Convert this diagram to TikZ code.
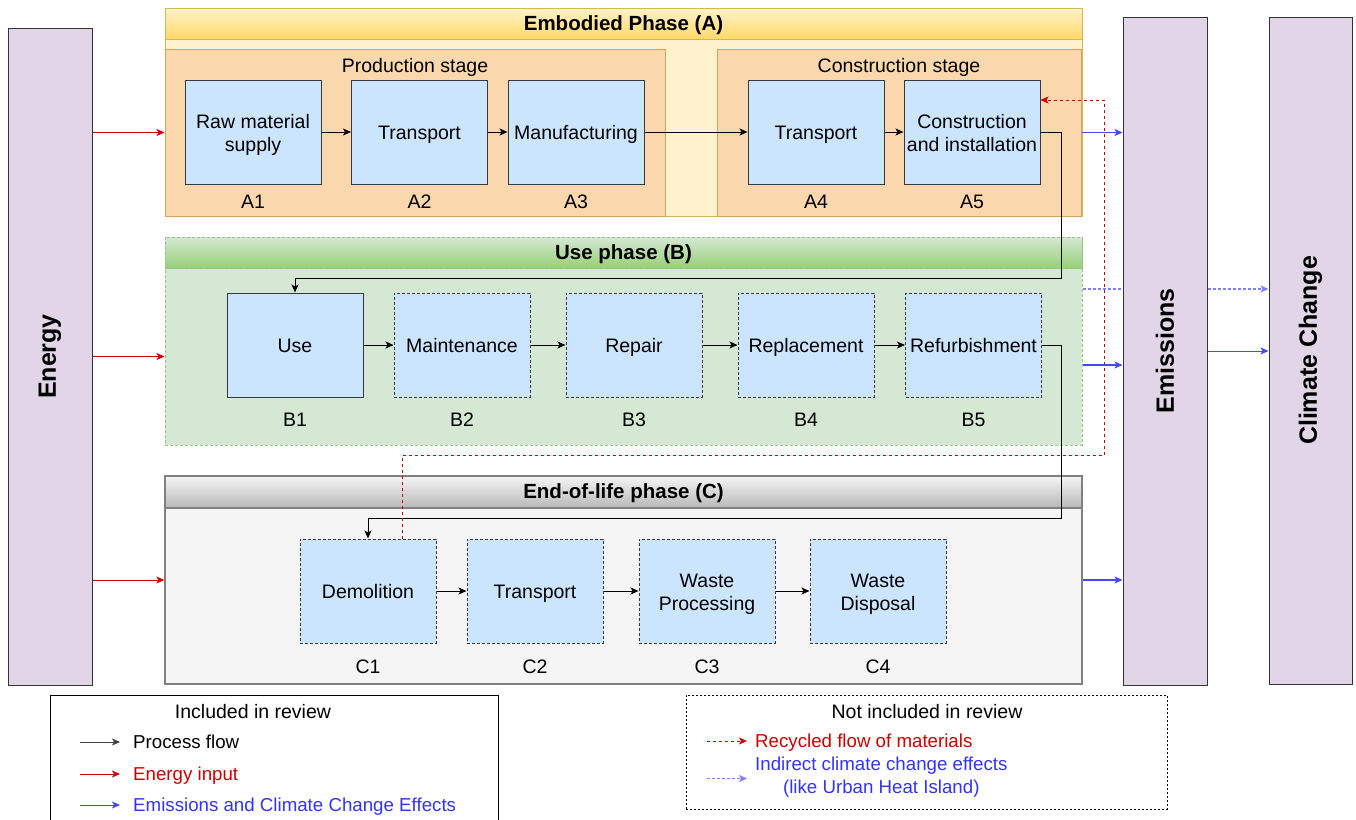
\documentclass[tikz,border=0pt]{standalone}
\usepackage{fontspec}
\setmainfont{Liberation Sans}
\usetikzlibrary{positioning,arrows.meta,shapes}

\definecolor{barfill}{HTML}{E1D5E7}
\definecolor{embhead}{HTML}{FFD966}
\definecolor{embbody}{HTML}{FFF2CC}
\definecolor{embline}{HTML}{D6B656}
\definecolor{stagefill}{HTML}{FAD7AC}
\definecolor{stageline}{HTML}{D6A25A}
\definecolor{usehead}{HTML}{97D077}
\definecolor{usebody}{HTML}{D5E8D4}
\definecolor{useline}{HTML}{97C285}
\definecolor{eolhead}{HTML}{B8B8B8}
\definecolor{eolbody}{HTML}{F5F5F5}
\definecolor{eolline}{HTML}{808080}
\definecolor{boxfill}{HTML}{CCE5FF}
\definecolor{boxline}{HTML}{36393D}
\definecolor{energyred}{HTML}{CC0000}
\definecolor{emisblue}{HTML}{3333FF}
\definecolor{indblue}{HTML}{7F7FFF}

\begin{document}
\begin{tikzpicture}[x=1pt,y=-1pt,font=\fontsize{19.5}{23}\selectfont,
	>={Stealth[length=8pt,width=7pt,inset=2pt]}]
	\useasboundingbox (0,0) rectangle (1356,819);
	\edef\boxw{136pt}
	\edef\boxh{104pt}
	\tikzset{
		txt/.style={text height=13.6pt,text depth=0pt},
		procbox/.style={draw=boxline,fill=boxfill,line width=1pt,minimum width=\boxw,minimum height=\boxh,align=center,inner sep=1pt,text height=16pt,text depth=1pt},
		twoline/.style={text height=39pt},
		optbox/.style={procbox,dash pattern=on 3pt off 2pt},
		steplbl/.style={inner sep=0pt,txt},
		legitem/.style={steplbl,anchor=west,font=\fontsize{18.7}{23}\selectfont},
		bar/.style={draw=black!80,fill=barfill,line width=1pt,minimum width=84pt},
		bartxt/.style={rotate=90,font=\bfseries\fontsize{25}{28}\selectfont},
		phase/.style={line width=1pt,minimum width=917pt,inner sep=0pt},
		phasehead/.style={phase,anchor=north,minimum height=31pt,txt,font=\bfseries\fontsize{20.5}{23}\selectfont},
		stage/.style={draw=stageline,fill=stagefill,line width=1pt,inner sep=0pt},
		flow/.style={->,line width=1pt,black},
		energyflow/.style={->,line width=1pt,energyred},
		emisflow/.style={->,line width=1.5pt,emisblue!90},
		recycled/.style={->,line width=1pt,energyred,dash pattern=on 3pt off 3pt},
		indirect/.style={line width=1.6pt,indblue,dash pattern=on 3pt off 2pt}
	}

	%% Side bars
	\node[bar,minimum height=657pt] (energy) at (50,356.5) {};
	\node[bartxt] (energytxt) at (energy) {Energy};
	\node[bar,minimum height=668pt] (emis) at (1165,351) {};
	\node[bartxt] (emistxt) at (emis) {Emissions};
	\node[bar,minimum width=83pt,minimum height=667pt] (climate) at (1310.5,350.5) {};
	\node[bartxt] (climatetxt) at (climate) {Climate Change};

	%% Embodied phase (A)
	\node[phase,draw=embline,fill=embbody,minimum height=208pt] (phaseA) at (623.5,112) {};
	\node[phasehead,draw=embline,top color=embbody,bottom color=embhead] (headA) at (phaseA.north) {Embodied Phase (A)};
	\node[stage,minimum width=500pt,minimum height=167pt] (prod) at (415,132.5) {};
	\node[stage,minimum width=364pt,minimum height=167pt] (cons) at (899,132.5) {};
	\node[txt] (prodtxt) at (415,66) {Production stage};
	\node[txt] (constxt) at (899,66) {Construction stage};

	\node[procbox,twoline] (a1) at (253,132) {Raw material\\supply};
	\node[procbox] (a2) at (419.5,132) {Transport};
	\node[procbox] (a3) at (576,132) {Manufacturing};
	\node[procbox] (a4) at (816,132) {Transport};
	\node[procbox,twoline] (a5) at (972,132) {Construction\\and installation};
	\foreach \s/\t in {a1/A1,a2/A2,a3/A3,a4/A4,a5/A5}
		\node[steplbl] (\s lbl) at (\s.south |- 0,202) {\t};

	%% Use phase (B)
	\node[phase,draw=useline,fill=usebody,dash pattern=on 3pt off 2pt,minimum height=208pt] (phaseB) at (623.5,341) {};
	\node[phasehead,draw=useline,dash pattern=on 3pt off 2pt,top color=usebody,bottom color=usehead] (headB) at (phaseB.north) {Use phase (B)};

	\node[procbox] (b1) at (295,345) {Use};
	\node[optbox] (b2) at (462,345) {Maintenance};
	\node[optbox] (b3) at (634,345) {Repair};
	\node[optbox] (b4) at (806,345) {Replacement};
	\node[optbox] (b5) at (973.5,345) {Refurbishment};
	\foreach \s/\t in {b1/B1,b2/B2,b3/B3,b4/B4,b5/B5}
		\node[steplbl] (\s lbl) at (\s.south |- 0,420) {\t};

	%% End-of-life phase (C)
	\node[phase,draw=eolline,fill=eolbody,line width=1.3pt,minimum height=208pt] (phaseC) at (623.5,580) {};
	\node[phasehead,draw=eolline,line width=1.3pt,top color=eolbody,bottom color=eolhead,minimum height=32pt] (headC) at (phaseC.north) {End-of-life phase (C)};

	\node[optbox] (c1) at (368,591) {Demolition};
	\node[optbox] (c2) at (535,591) {Transport};
	\node[optbox,twoline] (c3) at (707,591) {Waste\\Processing};
	\node[optbox,twoline] (c4) at (878,591) {Waste\\Disposal};
	\foreach \s/\t in {c1/C1,c2/C2,c3/C3,c4/C4}
		\node[steplbl] (\s lbl) at (\s.south |- 0,667) {\t};

	%% Process flow
	\path[flow]
		(a1) edge (a2)
		(a2) edge (a3)
		(a3) edge (a4)
		(a4) edge (a5)
		(b1) edge (b2)
		(b2) edge (b3)
		(b3) edge (b4)
		(b4) edge (b5)
		(c1) edge (c2)
		(c2) edge (c3)
		(c3) edge (c4);
	\coordinate (turnA) at (1061,278);
	\coordinate (turnB) at (1061,518);
	\draw[flow] (a5.east) -| (turnA) -| (b1.north);
	\draw[flow] (b5.east) -| (turnB) -| (c1.north);

	%% Recycled materials
	\coordinate (recyc) at (1104,455);
	\draw[recycled] ([xshift=34pt]c1.north) |- (recyc) |- ([yshift=32pt]a5.east);

	%% Energy input
	\draw[energyflow] (energy.east |- prod.west) -- (prod.west);
	\draw[energyflow] (energy.east) -- (energy.east -| phaseB.west);
	\draw[energyflow] (energy.east |- phaseC.west) -- (phaseC.west);

	%% Emissions
	\coordinate (bout) at ([yshift=-24pt]phaseB.east);
	\coordinate (bind) at ([yshift=52pt]phaseB.east);
	\draw[emisflow] (cons.east) -- (cons.east -| emis.west);
	\draw[emisflow] (bout) -- (bout -| emis.west);
	\draw[emisflow] (phaseC.east) -- (phaseC.east -| emis.west);
	\draw[emisflow,line width=1pt] (emis.east) -- (emis.east -| climate.west);
	\draw[indirect] (bind) -- (bind -| emis.west);
	\draw[indirect,->] (bind -| emis.east) -- (bind -| climate.west);

	%% Legend: included
	\node[draw,line width=1pt,minimum width=448pt,minimum height=140pt,anchor=north west,inner sep=0pt] (legin) at (50,695) {};
	\node[txt] (legintxt) at (253,712) {Included in review};
	\node[legitem] (lgproc) at (133,742) {Process flow};
	\node[legitem,text=energyred] (lgenergy) at (133,774) {Energy input};
	\node[legitem,text=emisblue] (lgemis) at (133,805) {Emissions and Climate Change Effects};
	\draw[flow,black!75] ([xshift=-53pt]lgproc.west) -- ([xshift=-13pt]lgproc.west);
	\draw[energyflow] ([xshift=-53pt]lgenergy.west) -- ([xshift=-13pt]lgenergy.west);
	\draw[emisflow,line width=1pt] ([xshift=-53pt]lgemis.west) -- ([xshift=-13pt]lgemis.west);

	%% Legend: not included
	\node[draw,line width=1pt,dash pattern=on 2pt off 2pt,minimum width=481pt,minimum height=114pt,inner sep=0pt] (legout) at (926.5,752) {};
	\node[txt] (legouttxt) at (927,712) {Not included in review};
	\node[legitem,text=energyred] (lgrecyc) at (755,741) {Recycled flow of materials};
	\node[legitem,text=emisblue,align=center,text height=36.6pt] (lgind) at (755,775.5) {Indirect climate change effects\\(like Urban Heat Island)};
	\draw[recycled] ([xshift=-48pt]lgrecyc.west) -- ([xshift=-8pt]lgrecyc.west);
	\draw[indirect,line width=1pt,->] ([xshift=-48pt,yshift=-3pt]lgind.west) -- ([xshift=-8pt,yshift=-3pt]lgind.west);
\end{tikzpicture}
\end{document}
